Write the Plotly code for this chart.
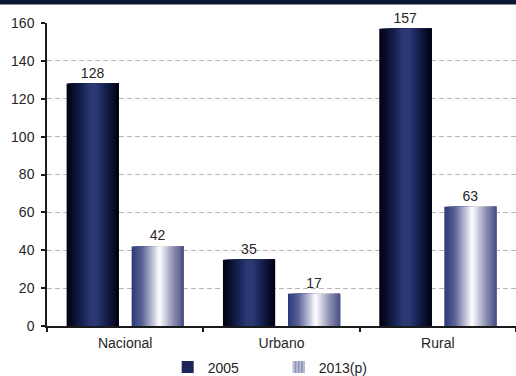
import plotly.graph_objects as go

# ---- data ----
categories = ["Nacional", "Urbano", "Rural"]
values_2005 = [128, 35, 157]
values_2013 = [42, 17, 63]
series_names = ["2005", "2013(p)"]
y_tick_values = [0, 20, 40, 60, 80, 100, 120, 140, 160]

# ---- styles ----
FONT = "Liberation Sans, Arial, sans-serif"
TXT = "#262626"
grad_2005 = [(0.0, "#00000f"), (0.28, "#15204e"), (0.45, "#2b3873"),
             (0.58, "#2b3873"), (0.75, "#15204e"), (1.0, "#00000f")]
grad_2013 = [(0.0, "#2a3a78"), (0.2, "#5a6195"), (0.42, "#c6c8dc"),
             (0.53, "#ffffff"), (0.6, "#e2e3ec"), (0.8, "#8c8eb0"), (1.0, "#4b5186")]


def hex2rgb(h):
    h = h.lstrip("#")
    return tuple(int(h[i:i + 2], 16) for i in (0, 2, 4))


def interp(stops, t):
    for (t0, c0), (t1, c1) in zip(stops[:-1], stops[1:]):
        if t0 <= t <= t1:
            f = 0 if t1 == t0 else (t - t0) / (t1 - t0)
            a, b = hex2rgb(c0), hex2rgb(c1)
            r = [round(a[k] + (b[k] - a[k]) * f) for k in range(3)]
            return "rgb(%d,%d,%d)" % tuple(r)
    return stops[-1][1]


W = 0.333      # bar width (category units)
D = 0.208      # distance of bar centre from category centre
N = 30         # gradient layers

fig = go.Figure()

for vals, centre, stops in ((values_2005, -D, grad_2005), (values_2013, D, grad_2013)):
    for i in range(N):
        step = W / N
        left = centre - W / 2 + i * step
        fig.add_trace(go.Bar(
            x=categories, y=vals,
            width=W - i * step, offset=left,
            marker=dict(color=interp(stops, (i + 0.5) / N), line=dict(width=0)),
            showlegend=False, hoverinfo="skip" if i else "x+y",
            text=[str(v) for v in vals] if i == 0 else None,
            textposition="outside" if i == 0 else None,
            textfont=dict(family=FONT, size=14, color=TXT),
            constraintext="none", cliponaxis=False,
        ))

# legend entries
fig.add_trace(go.Bar(x=categories, y=[None] * 3, name=series_names[0],
                     marker=dict(color="#1b2557", line=dict(width=0))))
fig.add_trace(go.Bar(x=categories, y=[None] * 3, name=series_names[1],
                     marker=dict(color="#8e93b8", line=dict(width=0),
                                 pattern=dict(shape="|", fgcolor="#ffffff", size=4, solidity=0.4))))

fig.update_layout(
    width=516, height=376,
    barmode="overlay",
    margin=dict(l=47, r=0, t=23, b=50, autoexpand=False),
    paper_bgcolor="white", plot_bgcolor="white",
    font=dict(family=FONT, size=14, color=TXT),
    showlegend=True,
    legend=dict(orientation="h", x=0.494, xanchor="center", y=-0.137, yanchor="middle",
                font=dict(family=FONT, size=14, color=TXT),
                entrywidth=66, entrywidthmode="pixels", itemwidth=30),
    shapes=[dict(type="rect", xref="paper", yref="paper",
                 x0=-0.2, x1=1.1, y0=1 + 18.5 / 303, y1=1 + 30 / 303,
                 fillcolor="#0a1830", line=dict(width=0), layer="above")],
)

fig.update_xaxes(
    type="category", range=[-0.5, 2.5],
    showline=True, linecolor="#1a1a1a", linewidth=1.5,
    ticks="outside", tickson="boundaries", ticklen=4, tickcolor="#1a1a1a", tickwidth=1.5,
    ticklabelstandoff=3,
    showgrid=False, tickfont=dict(family=FONT, size=14, color=TXT),
)
fig.update_yaxes(
    range=[0, 160], tickvals=y_tick_values,
    showline=True, linecolor="#1a1a1a", linewidth=1.5,
    ticks="outside", ticklen=4, tickcolor="#1a1a1a", tickwidth=1.5,
    ticklabelstandoff=4,
    showgrid=True, gridcolor="#b5b5b5", gridwidth=1.3, griddash="5px,3px",
    zeroline=False, tickfont=dict(family=FONT, size=14, color=TXT),
)

fig.write_html("out.html", config={"displayModeBar": False},
               post_script="document.body.style.margin='0';")
